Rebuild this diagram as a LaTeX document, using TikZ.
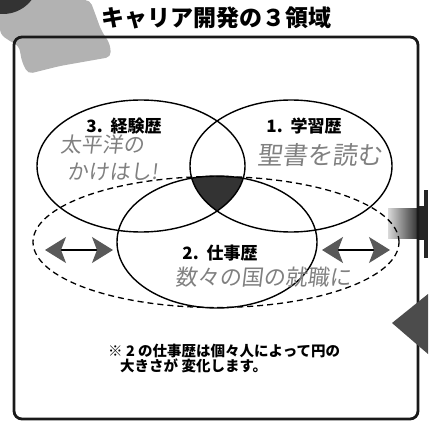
\documentclass[tikz,border=0pt]{standalone}
\usepackage{fontspec}
\setmainfont{Noto Sans CJK JP}
\newfontfamily\hand{Noto Sans CJK JP}[FakeSlant=0.12]
\usetikzlibrary{shapes.geometric,arrows.meta}
\tikzset{
  ring/.style={ellipse,draw,line width=1.4pt,inner sep=0pt,fill=none},
  dashring/.style={ellipse,draw,line width=1.3pt,dash pattern=on 6pt off 4pt,inner sep=0pt},
  lab/.style={font=\fontsize{17}{20}\selectfont\bfseries,inner sep=0pt},
  handw/.style={font=\hand\fontsize{21}{23}\selectfont,text=black!50,inner sep=0pt},
  notetxt/.style={font=\fontsize{14.5}{17}\selectfont\bfseries,inner sep=0pt,anchor=west},
  dblarrow/.style={line width=1.2pt,{Stealth[length=21pt,width=26pt,inset=5pt,color=black!65]}-{Stealth[length=21pt,width=26pt,inset=5pt,color=black!65]}}
}
\begin{document}
\begin{tikzpicture}[x=1pt,y=-1pt]
\useasboundingbox (0,0) rectangle (428,430);
% background decorations (scan)
\fill[black!30,rounded corners=5pt] (0,0) -- (90,0) -- (96,16) -- (101,30) -- (110,44) -- (111,57) -- (60,66) -- (28,74) -- (22,62) -- (19,46) -- (8,40) -- (0,34) -- cycle;
\fill[black!80] (3,-22) circle[radius=36pt];
\shade[left color=black!15,right color=black!85] (388,208) rectangle (420,238);
\fill[black!85] (419,206) rectangle (428,240);
\fill[black!85] (424,190) rectangle (428,258);
% frame
\draw[line width=2.8pt,rounded corners=8pt,black!90] (14,37) rectangle (418,419);
\fill[black!70] (392,323) -- (428,294) -- (428,354) -- cycle;
% title
\node[font=\fontsize{23}{26}\selectfont\bfseries,inner sep=0pt] (title) at (216,18) {キャリア開発の３領域};
% dark triple intersection
\begin{scope}
  \clip (141,166) ellipse [x radius=104pt, y radius=66pt];
  \clip (291,166) ellipse [x radius=101pt, y radius=66pt];
  \fill[black!80] (217,242) ellipse [x radius=100pt, y radius=66pt];
\end{scope}
% ellipses
\node[ring,minimum width=208pt,minimum height=132pt] (exp) at (141,166) {};
\node[ring,minimum width=202pt,minimum height=132pt] (stu) at (291,166) {};
\node[ring,minimum width=200pt,minimum height=132pt] (work) at (217,242) {};
\node[dashring,minimum width=366pt,minimum height=131pt] (range) at (216,242) {};
% arrows
\coordinate (la) at (45,250);
\coordinate (lb) at (113,250);
\coordinate (ra) at (322,250);
\coordinate (rb) at (390,250);
\draw[dblarrow] (la) -- (lb);
\draw[dblarrow] (ra) -- (rb);
% labels
\node[lab] (l3) at (124,126) {3.\ \ 経験歴};
\node[lab] (l1) at (304,126) {1.\ \ 学習歴};
\node[lab] (l2) at (220,253) {2.\ \ 仕事歴};
% handwriting
\node[handw] (h1) at (102,145) {太平洋の};
\node[handw] (h2) at (113,172) {かけはし!};
\node[handw,font=\hand\fontsize{25}{27}\selectfont] (h3) at (320,155) {聖書を読む};
\node[handw,font=\hand\fontsize{22}{24}\selectfont] (h4) at (263,277) {数々の国の就職に};
% note
\node[notetxt] (n1) at (108,351) {※ 2 の仕事歴は個々人によって円の};
\node[notetxt] (n2) at (120,366) {大きさが 変化します。};
\end{tikzpicture}
\end{document}
